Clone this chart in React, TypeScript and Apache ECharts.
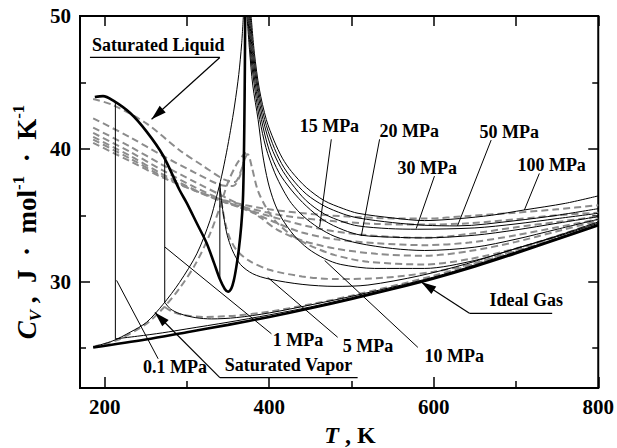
import { useEffect, useRef } from 'react';
import * as echarts from 'echarts';

// ---------- axes ----------
const X_MIN = 170;
const X_MAX = 800;
const Y_MIN = 22;
const Y_MAX = 50;
const xMajorTicks = [200, 400, 600, 800];
const xMinorTicks = [300, 500, 700];
const yMajorTicks = [30, 40, 50];
const yMinorTicks = [25, 35, 45];

type Pt = [number, number];

// ---------- solid model (T [K], Cv [J/mol/K]) ----------
const satLiquid: Pt[] = [[188, 43.9], [198, 43.97], [210, 43.65], [231, 42.7], [251, 41.3], [271, 39.5], [291, 36.9], [300, 35.9], [312, 34.4], [324, 32.9], [333, 31.4], [340, 30.2], [346, 29.45], [350, 29.25], [354, 29.5], [357, 30.1], [360, 31.1], [363, 32.4], [366, 34.2], [368, 36.1], [369, 38.5], [369.8, 42], [370.4, 46], [370.8, 50]];
const satVapor: Pt[] = [[186, 25.1], [210, 25.55], [231, 26.2], [251, 26.95], [271, 28.3], [291, 29.95], [312, 32.1], [328, 34.6], [336, 36.4], [342, 37.9], [348, 39.7], [353, 41.4], [358, 43.3], [363, 45.6], [366.5, 47.9], [368.6, 50]];
const idealGas: Pt[] = [[186, 25.05], [250, 25.65], [300, 26.2], [350, 26.75], [400, 27.35], [450, 28.0], [500, 28.7], [550, 29.45], [600, 30.25], [650, 31.15], [700, 32.15], [750, 33.2], [800, 34.25]];

const p01Jump: Pt[] = [[213, 43.55], [213, 25.7]];
const p01Vapor: Pt[] = [[213, 25.7], [240, 25.9], [270, 26.15], [300, 26.45], [350, 26.95], [400, 27.5], [450, 28.1], [500, 28.8], [600, 30.3], [700, 32.2], [800, 34.28]];
const p1Jump: Pt[] = [[273, 39.3], [273, 28.45]];
const p1Vapor: Pt[] = [[273, 28.45], [280, 27.95], [291, 27.6], [310, 27.3], [330, 27.2], [360, 27.3], [400, 27.65], [450, 28.25], [500, 28.9], [600, 30.35], [700, 32.25], [800, 34.3]];
const p5Jump: Pt[] = [[340, 30.15], [340, 37.4]];
const p5Vapor: Pt[] = [[340, 37.4], [342, 36.1], [345, 34.8], [349, 33.5], [355, 32.4], [365, 31.3], [380, 30.6], [400, 30.2], [440, 29.8], [480, 29.65], [520, 29.75], [583, 30.45], [640, 31.35], [700, 32.5], [750, 33.4], [800, 34.4]];
const p10: Pt[] = [[373, 50], [376, 47.5], [380, 44.8], [386.5, 42.2], [392, 39.6], [398.6, 37.5], [406, 36.0], [415, 34.8], [430, 33.5], [447, 32.5], [467, 31.75], [487, 31.3], [528, 31.0], [589, 31.0], [650, 31.6], [700, 32.5], [750, 33.45], [800, 34.5]];
const p15: Pt[] = [[374, 50], [378, 46.8], [383, 44.3], [388.5, 42.2], [396, 40.1], [406.7, 38.2], [417, 36.9], [427, 35.9], [442, 34.9], [459, 34.1], [480, 33.4], [508, 32.9], [550, 32.5], [589, 32.35], [650, 32.6], [700, 33.2], [750, 33.95], [800, 34.7]];
const p20: Pt[] = [[375, 50], [379, 46.9], [384.5, 44.3], [390.5, 42.2], [400, 39.9], [412, 38.2], [427, 36.9], [445, 35.7], [467, 34.6], [490, 33.9], [512, 33.5], [550, 33.35], [589, 33.3], [650, 33.5], [700, 33.9], [750, 34.4], [800, 34.9]];
const p30: Pt[] = [[376, 50], [380, 47], [386, 44.3], [392.5, 42.2], [402, 40.2], [414, 38.6], [427, 37.4], [445, 36.1], [467, 35.1], [490, 34.5], [508, 34.2], [545, 34.0], [580, 33.95], [650, 34.05], [700, 34.35], [750, 34.75], [800, 35.15]];
const p50: Pt[] = [[377, 50], [381, 47.1], [387, 44.4], [394.5, 42.2], [404, 40.4], [415, 38.9], [427, 37.8], [445, 36.6], [467, 35.7], [490, 35.1], [508, 34.8], [550, 34.45], [589, 34.25], [629, 34.2], [700, 34.6], [750, 35.0], [800, 35.5]];
const p100: Pt[] = [[378, 50], [382, 47.2], [388, 44.5], [396.5, 42.2], [406, 40.6], [416, 39.3], [427, 38.3], [445, 37.1], [467, 36.1], [490, 35.5], [508, 35.15], [550, 34.8], [589, 34.6], [631, 34.75], [670, 35.0], [710, 35.4], [760, 35.9], [800, 36.46]];

// ---------- dashed model ----------
const dSatLiquid: Pt[] = [[186, 43.75], [210, 43.3], [251, 41.9], [291, 39.9], [320, 38.7], [345, 37.7], [358, 37.5], [366, 38.4], [372, 39.7]];
const dSatVapor: Pt[] = [[186, 25.1], [215, 25.6], [251, 26.85], [271, 28.0], [291, 29.5], [311, 31.4], [328, 33.6], [340, 35.6], [350, 37.5], [360, 38.8], [368, 39.5], [372, 39.7]];
const d1Vapor: Pt[] = [[273, 28.1], [282, 27.75], [295, 27.5], [320, 27.35], [360, 27.45], [400, 27.75], [450, 28.3], [500, 28.95], [600, 30.45], [700, 32.3], [800, 34.35]];
const d5Vapor: Pt[] = [[340, 36.9], [343, 35.6], [347, 34.3], [352, 33.3], [360, 32.4], [375, 31.6], [400, 30.9], [440, 30.4], [480, 30.2], [540, 30.3], [600, 30.75], [650, 31.4], [700, 32.4], [750, 33.4], [800, 34.45]];
const d10: Pt[] = [[186, 42.3], [230, 40.9], [270, 39.5], [310, 38.2], [340, 37.3], [356, 37.2], [364, 37.9], [370, 39.2], [374, 39.6], [379, 38.6], [386, 36.9], [396, 35.6], [407, 34.6], [425, 33.6], [447, 32.8], [480, 32.0], [520, 31.5], [589, 31.3], [643, 31.7], [700, 32.5], [750, 33.45], [800, 34.5]];
const d15: Pt[] = [[186, 41.6], [230, 40.2], [270, 38.8], [310, 37.5], [345, 36.4], [370, 35.6], [390, 34.8], [410, 33.9], [440, 33.1], [480, 32.5], [530, 32.1], [589, 31.95], [643, 32.3], [700, 33.0], [750, 33.8], [800, 34.6]];
const d20: Pt[] = [[186, 41.2], [230, 39.8], [270, 38.4], [310, 37.1], [345, 36.1], [380, 35.2], [410, 34.4], [440, 33.7], [480, 33.2], [530, 32.9], [589, 32.75], [643, 32.95], [700, 33.5], [750, 34.1], [800, 34.7]];
const d30: Pt[] = [[186, 40.9], [230, 39.5], [270, 38.1], [310, 36.9], [345, 36.0], [380, 35.3], [420, 34.6], [460, 34.0], [510, 33.55], [589, 33.3], [643, 33.6], [700, 34.1], [750, 34.5], [800, 34.9]];
const d50: Pt[] = [[186, 40.7], [230, 39.3], [270, 37.95], [310, 36.85], [345, 36.0], [380, 35.45], [420, 34.95], [470, 34.6], [530, 34.35], [589, 34.3], [643, 34.4], [700, 34.7], [750, 35.0], [800, 35.2]];
const d100: Pt[] = [[186, 40.45], [230, 39.1], [270, 37.85], [310, 36.85], [350, 36.05], [400, 35.45], [460, 35.05], [530, 34.8], [589, 34.75], [643, 34.95], [700, 35.2], [750, 35.45], [800, 35.76]];

// ---------- annotations (anchors in data coordinates) ----------
type Note = { text: string; at: Pt; line?: [Pt, Pt]; under?: [Pt, Pt]; arrow?: [Pt, Pt] };
const notes: Note[] = [
  { text: 'Saturated Liquid', at: [184.6, 47.8], under: [[182.1, 46.88], [340, 46.88]], arrow: [[340, 46.88], [257, 42.23]] },
  { text: 'Saturated Vapor', at: [346, 23.76], under: [[340, 22.78], [507.5, 22.78]], arrow: [[340, 22.78], [261, 27.68]] },
  { text: 'Ideal Gas', at: [667.7, 28.6], under: [[643.4, 27.62], [744, 27.62]], arrow: [[643.4, 27.62], [584.8, 29.97]] },
  { text: '0.1 MPa', at: [246.5, 23.55], line: [[214.5, 30.1], [265, 24.2]] },
  { text: '1 MPa', at: [404.3, 25.64], line: [[273.2, 32.61], [402.7, 26.08]] },
  { text: '5 MPa', at: [489.3, 25.14], line: [[398.2, 30.32], [483.2, 25.82]] },
  { text: '10 MPa', at: [588.8, 24.44], line: [[467.4, 31.6], [580.7, 25.06]] },
  { text: '15 MPa', at: [437, 41.72], line: [[475.5, 40.72], [461.3, 34.12]] },
  { text: '20 MPa', at: [534.2, 41.34], line: [[534.2, 40.72], [512, 33.45]] },
  { text: '30 MPa', at: [556, 38.55], line: [[600.9, 37.95], [578.7, 34.0]] },
  { text: '50 MPa', at: [655.6, 41.29], line: [[669.8, 40.66], [628.9, 34.2]] },
  { text: '100 MPa', at: [701.7, 38.78], line: [[728.4, 38.15], [710.2, 35.4]] },
];

const FONT = 'Liberation Serif';

const thin = { color: '#000', width: 1 };
const thick = { color: '#000', width: 2.6 };
const dashed = { color: '#8c8c8c', width: 2, type: [7, 4] };

function mk(name: string, data: Pt[], style: any, z: number, smooth: number | boolean = 0.3) {
  return {
    type: 'line', name, data, symbol: 'none', showSymbol: false, smooth,
    lineStyle: style, z, silent: true, xAxisIndex: 0, yAxisIndex: 0,
  };
}

function tickAxis(kind: 'x' | 'y', position: string, values: number[], length: number, labels: boolean) {
  const base: any = {
    type: 'value', position,
    min: kind === 'x' ? X_MIN : Y_MIN,
    max: kind === 'x' ? X_MAX : Y_MAX,
    axisLine: { show: false },
    splitLine: { show: false },
    axisTick: { show: true, inside: true, length, customValues: values, lineStyle: { color: '#000', width: 1.5 } },
    axisLabel: labels
      ? { show: true, customValues: values, fontFamily: FONT, fontWeight: 'bold', fontSize: 21, color: '#000', margin: kind === 'x' ? 8 : 9 }
      : { show: false },
  };
  return base;
}

export default function App() {
  const ref = useRef<HTMLDivElement>(null);
  useEffect(() => {
    document.body.style.margin = '0';
    if (!ref.current) return;
    const chart = echarts.init(ref.current, undefined, { renderer: 'svg' });
    const series = [
      mk('dSatLiquid', dSatLiquid, dashed, 2),
      mk('dSatVapor', dSatVapor, dashed, 2),
      mk('d1', d1Vapor, dashed, 2),
      mk('d5', d5Vapor, dashed, 2),
      mk('d10', d10, dashed, 2),
      mk('d15', d15, dashed, 2),
      mk('d20', d20, dashed, 2),
      mk('d30', d30, dashed, 2),
      mk('d50', d50, dashed, 2),
      mk('d100', d100, dashed, 2),
      mk('satVapor', satVapor, thin, 3),
      mk('p01Jump', p01Jump, thin, 3, false),
      mk('p01', p01Vapor, thin, 3),
      mk('p1Jump', p1Jump, thin, 3, false),
      mk('p1', p1Vapor, thin, 3),
      mk('p5Jump', p5Jump, thin, 3, false),
      mk('p5', p5Vapor, thin, 3),
      mk('p10', p10, thin, 3),
      mk('p15', p15, thin, 3),
      mk('p20', p20, thin, 3),
      mk('p30', p30, thin, 3),
      mk('p50', p50, thin, 3),
      mk('p100', p100, thin, 3),
      mk('satLiquid', satLiquid, thick, 4),
      mk('idealGas', idealGas, thick, 4),
    ];
    chart.setOption({
      animation: false,
      grid: { left: 80, right: 18, top: 16, bottom: 60, show: true, borderColor: '#000', borderWidth: 2, backgroundColor: 'transparent' },
      xAxis: [
        tickAxis('x', 'bottom', xMajorTicks, 11, true),
        tickAxis('x', 'bottom', xMinorTicks, 7, false),
        tickAxis('x', 'top', [...xMajorTicks, ...xMinorTicks], 10, false),
      ],
      yAxis: [
        tickAxis('y', 'left', yMajorTicks, 10, true),
        tickAxis('y', 'left', yMinorTicks, 6, false),
        tickAxis('y', 'right', yMajorTicks, 10, false),
        tickAxis('y', 'right', yMinorTicks, 6, false),
      ],
      series,
    });

    const P = (p: Pt) => chart.convertToPixel({ xAxisIndex: 0, yAxisIndex: 0 }, p) as number[];
    const g: any[] = [];
    const lineEl = (a: Pt, b: Pt, w = 1) => {
      const A = P(a), B = P(b);
      return { type: 'line', shape: { x1: A[0], y1: A[1], x2: B[0], y2: B[1] }, style: { stroke: '#000', lineWidth: w }, z: 10 };
    };
    notes.forEach((n) => {
      const a = P(n.at);
      g.push({
        type: 'text', x: a[0], y: a[1], z: 11,
        style: { text: n.text, fontFamily: FONT, fontWeight: 'bold', fontSize: 18, fill: '#000', textAlign: 'left', align: 'left', textVerticalAlign: 'middle', verticalAlign: 'middle' },
      });
      if (n.line) g.push(lineEl(n.line[0], n.line[1]));
      if (n.under) g.push(lineEl(n.under[0], n.under[1], 1.3));
      if (n.arrow) {
        g.push(lineEl(n.arrow[0], n.arrow[1], 1.2));
        const S = P(n.arrow[0]), T = P(n.arrow[1]);
        const dx = T[0] - S[0], dy = T[1] - S[1];
        const len = Math.hypot(dx, dy);
        const ux = dx / len, uy = dy / len;
        const L = 15, W = 4.5;
        const bx = T[0] - ux * L, by = T[1] - uy * L;
        g.push({
          type: 'polygon', z: 12,
          shape: { points: [[T[0], T[1]], [bx - uy * W, by + ux * W], [bx + uy * W, by - ux * W]] },
          style: { fill: '#000' },
        });
      }
    });
    // axis titles
    g.push({
      type: 'text', x: 350, y: 435, z: 11,
      style: {
        text: '{i|T}{b| , K}', textAlign: 'center', align: 'center', textVerticalAlign: 'middle', verticalAlign: 'middle',
        rich: {
          i: { fontFamily: FONT, fontWeight: 'bold', fontStyle: 'italic', fontSize: 24, fill: '#000' },
          b: { fontFamily: FONT, fontWeight: 'bold', fontSize: 24, fill: '#000' },
        },
      },
    });
    g.push({
      type: 'text', x: 27, y: 222, rotation: Math.PI / 2, z: 11,
      style: {
        text: '{i|C}{sub|V}{b| ,  J  ·  mol}{sup|-1}{b|  ·  K}{sup|-1}',
        textAlign: 'center', align: 'center', textVerticalAlign: 'middle', verticalAlign: 'middle',
        rich: {
          i: { fontFamily: FONT, fontWeight: 'bold', fontStyle: 'italic', fontSize: 27, lineHeight: 34, fill: '#000' },
          b: { fontFamily: FONT, fontWeight: 'bold', fontSize: 27, lineHeight: 34, fill: '#000' },
          sub: { fontFamily: FONT, fontWeight: 'bold', fontStyle: 'italic', fontSize: 17, lineHeight: 19, verticalAlign: 'bottom', fill: '#000' },
          sup: { fontFamily: FONT, fontWeight: 'bold', fontSize: 17, lineHeight: 19, verticalAlign: 'top', fill: '#000' },
        },
      },
    });
    chart.setOption({ graphic: g });
    return () => chart.dispose();
  }, []);
  return <div ref={ref} style={{ width: 617, height: 448 }} />;
}
